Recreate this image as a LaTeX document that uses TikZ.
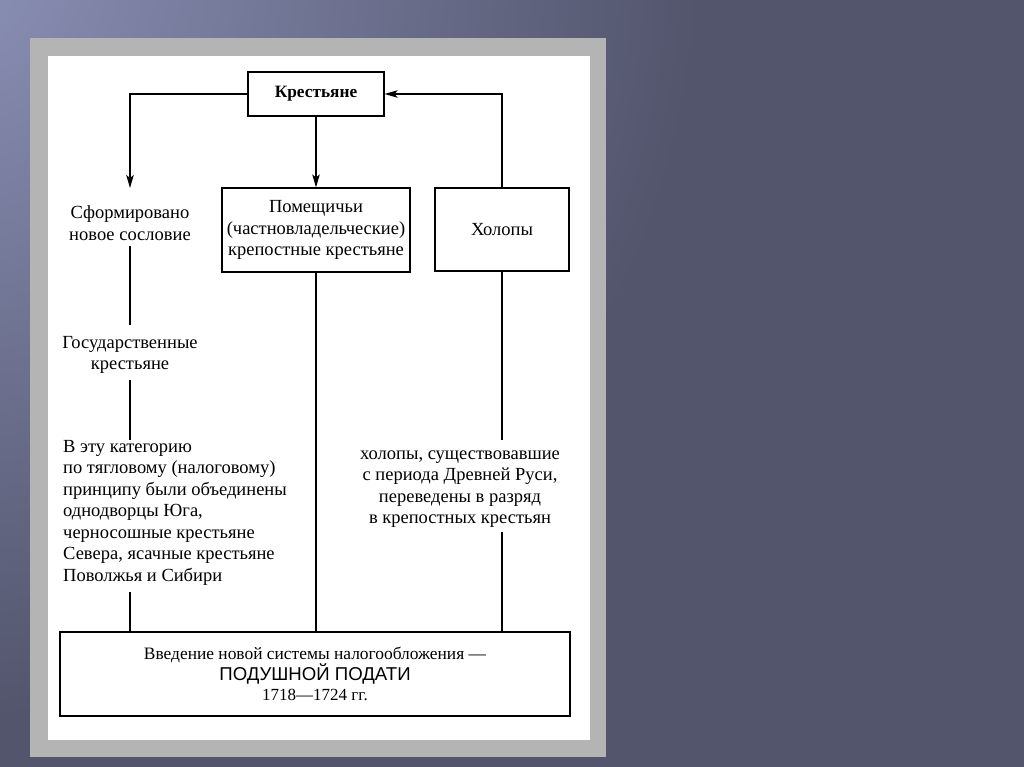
\documentclass[tikz,border=0pt]{standalone}
\usepackage{fontspec}
\setmainfont{Liberation Serif}
\newfontfamily\sansf{Liberation Sans}
\usetikzlibrary{arrows.meta}
\definecolor{bgdark}{RGB}{82,85,108}
\definecolor{bglight}{RGB}{140,146,184}
\definecolor{framegrey}{RGB}{180,180,180}
\begin{document}
\begin{tikzpicture}[x=1pt,y=-1pt,
  box/.style={draw, line width=1.2pt, inner sep=0pt},
  lbl/.style={font=\fontsize{18.5}{21.5}\selectfont, align=center, inner sep=0pt},
  ln/.style={line width=1.2pt},
  arr/.style={ln,-{Stealth[length=13pt,width=7.5pt,inset=3pt]}}]
\useasboundingbox (0,0) rectangle (1024,767);
\fill[bgdark] (0,0) rectangle (1024,767);
\begin{scope}
\clip (0,0) rectangle (1024,767);
\shade[inner color=bglight, outer color=bgdark] (-60,-40) circle (760);
\end{scope}
% frame
\fill[framegrey] (30,38) rectangle (606,757);
\fill[white] (48,56) rectangle (590,740);
% nodes
\node[box, minimum width=136, minimum height=44, font=\fontsize{17.3}{20}\selectfont\bfseries] (kr) at (316,94) {Крестьяне};
\node[box, minimum width=188, minimum height=84, lbl] (pom) at (316,230) {Помещичьи\\(частновладельческие)\\крепостные крестьяне};
\node[box, minimum width=134, minimum height=83, lbl] (hol) at (502,229.5) {Холопы};
\node[lbl] (sf) at (130,223) {Сформировано\\новое сословие};
\node[lbl] (gos) at (130,355) {Государственные\\крестьяне};
\node[lbl, align=left, anchor=north west] (cat) at (63,440) {В эту категорию\\по тягловому (налоговому)\\принципу были объединены\\однодворцы Юга,\\черносошные крестьяне\\Севера, ясачные крестьяне\\Поволжья и Сибири};
\node[lbl] (hd) at (460,489) {холопы, существовавшие\\с периода Древней Руси,\\переведены в разряд\\в крепостных крестьян};
\node[box, minimum width=510, minimum height=84, lbl, font=\fontsize{17.4}{19.5}\selectfont] (bot) at (315,674) {Введение новой системы налогообложения ---\\{\sansf\fontsize{18.6}{19.5}\selectfont ПОДУШНОЙ ПОДАТИ}\\{\fontsize{17}{19.5}\selectfont 1718---1724 гг.}};
\coordinate (sfa) at (130,188);
\coordinate (sfb) at (130,246);
\coordinate (gosa) at (130,325);
\coordinate (gosb) at (130,380);
\coordinate (cata) at (130,440);
\coordinate (catb) at (130,592);
\coordinate (hda) at (502,440);
\coordinate (hdb) at (502,532);
% connectors
\draw[arr] (kr.west) -| (sfa);
\draw[arr] (kr.south) -- (pom.north);
\draw[arr] (hol.north) |- (kr.east);
\draw[ln] (sfb) -- (gosa);
\draw[ln] (gosb) -- (cata);
\draw[ln] (catb) -- (bot.north -| catb);
\draw[ln] (pom.south) -- (bot.north -| pom.south);
\draw[ln] (hol.south) -- (hda);
\draw[ln] (hdb) -- (bot.north -| hdb);
\end{tikzpicture}
\end{document}
